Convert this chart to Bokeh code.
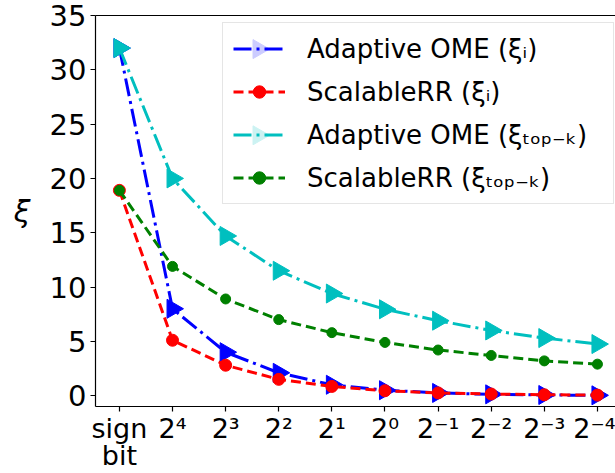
import math
from bokeh.plotting import figure
from bokeh.models import (Legend, LegendItem, LinearAxis, FixedTicker, Range1d)
from bokeh.embed import file_html
from bokeh.resources import INLINE

categories = ["sign\nbit", "2⁴", "2³", "2²", "2¹", "2⁰", "2⁻¹", "2⁻²", "2⁻³", "2⁻⁴"]
ome_xi = [32.0, 8.0, 4.0, 2.1, 1.0, 0.5, 0.25, 0.12, 0.06, 0.03]
rr_xi = [18.9, 5.1, 2.8, 1.5, 0.85, 0.45, 0.25, 0.15, 0.08, 0.05]
ome_topk = [32.0, 20.0, 14.7, 11.5, 9.4, 7.95, 6.9, 6.0, 5.3, 4.75]
rr_topk = [18.9, 11.9, 8.9, 7.0, 5.8, 4.9, 4.2, 3.7, 3.2, 2.9]
y_ticks = [0, 5, 10, 15, 20, 25, 30, 35]
labels = ["Adaptive OME (ξᵢ)", "ScalableRR (ξᵢ)", "Adaptive OME (ξₜₒₚ₋ₖ)", "ScalableRR (ξₜₒₚ₋ₖ)"]

xs = list(range(len(categories)))
FONT = "DejaVu Sans"

# layout (pixels)
W, H = 615, 473
FL, FT, FB = 95, 15, 405
X0, X1 = -0.45, 9.34
Y0, Y1 = -1.0, 35.0


def px_to_data(px, py):
    x = X0 + (px - FL) * (X1 - X0) / (W - FL)
    y = Y1 - (py - FT) * (Y1 - Y0) / (FB - FT)
    return x, y


p = figure(width=W, height=H, output_backend="svg", toolbar_location=None,
           x_range=Range1d(X0, X1), y_range=Range1d(Y0, Y1),
           min_border_left=FL, min_border_right=0, min_border_top=FT,
           min_border_bottom=0)
p.outline_line_color = None
p.background_fill_color = "white"
p.border_fill_color = "white"
p.grid.visible = False

for ax in (p.xaxis[0], p.yaxis[0]):
    ax.axis_line_color = "black"
    ax.axis_line_width = 1.2
    ax.major_tick_line_color = "black"
    ax.major_tick_line_width = 1.2
    ax.major_tick_out = 5
    ax.major_tick_in = 0
    ax.minor_tick_line_color = None
    ax.major_label_text_font = FONT
    ax.major_label_text_color = "black"
    ax.major_label_standoff = 4

p.xaxis.major_label_text_font_size = "27px"
p.xaxis.major_label_standoff = 1
p.yaxis.major_label_text_font_size = "29px"
p.xaxis.ticker = FixedTicker(ticks=xs)
p.xaxis.major_label_overrides = {i: c.split("\n")[0] for i, c in enumerate(categories)}

# second line of multi-line category labels, as a stacked label-only axis
second = {i: c.split("\n")[1] for i, c in enumerate(categories) if "\n" in c}
axis2 = LinearAxis(ticker=FixedTicker(ticks=list(second.keys())),
                   major_label_overrides=second,
                   major_label_text_font=FONT, major_label_text_font_size="27px",
                   major_label_text_color="black", major_label_standoff=-7,
                   axis_line_color=None, major_tick_line_color=None,
                   minor_tick_line_color=None, major_tick_out=0, major_tick_in=0)
p.add_layout(axis2, "below")

p.yaxis.ticker = FixedTicker(ticks=y_ticks)
p.yaxis.axis_label = "ξ"
p.yaxis.axis_label_orientation = "horizontal"
p.yaxis.axis_label_text_font = FONT
p.yaxis.axis_label_text_font_style = "italic"
p.yaxis.axis_label_text_font_size = "30px"
p.yaxis.axis_label_text_color = "black"
p.yaxis.axis_label_standoff = 16

top_axis = LinearAxis(ticker=FixedTicker(ticks=[]), major_label_text_font_size="0px",
                      axis_line_color="black", axis_line_width=1.2,
                      major_tick_line_color=None, minor_tick_line_color=None)
p.add_layout(top_axis, "above")

# legend geometry
LEG_LEFT, LEG_TOP = 222, 23
PAD, GH, SP, GW, STAND = 10, 31, 12, 52, 22
LEG_W = 390
n_items = 4
LEG_H = 2 * PAD + n_items * GH + (n_items - 1) * SP

series = [
    (ome_xi, "#0000ff", "18 5 3 5", "triangle", 19),
    (rr_xi, "#ff0000", "10 5", "circle", 12),
    (ome_topk, "#00bfbf", "18 5 3 5", "triangle", 19),
    (rr_topk, "#008000", "10 5", "circle", 10),
]

items = []
for k, ((ys, color, dash, marker, size), lab) in enumerate(zip(series, labels)):
    ln = p.line(xs, ys, line_color=color, line_width=3, line_dash=dash)
    if marker == "triangle":
        sc = p.scatter(xs, ys, marker="triangle", size=size, angle=-math.pi / 2,
                       fill_color=color, line_color=color)
        gx = LEG_LEFT + PAD + GW / 2
        gy = LEG_TOP + PAD + k * (GH + SP) + GH / 2
        lx, ly = px_to_data(gx, gy)
        p.scatter([lx], [ly], marker="triangle", size=size, angle=-math.pi / 2,
                  fill_color=color, line_color=color, level="overlay")
        items.append(LegendItem(label=lab, renderers=[ln]))
    else:
        sc = p.scatter(xs, ys, marker="circle", size=size, fill_color=color, line_color=color)
        items.append(LegendItem(label=lab, renderers=[ln, sc]))

legend = Legend(items=items, location=(LEG_LEFT - FL, FB - (LEG_TOP + LEG_H)))
legend.label_text_font = FONT
legend.label_text_font_size = "26px"
legend.label_text_color = "black"
legend.glyph_width = GW
legend.glyph_height = GH
legend.label_height = GH
legend.label_width = LEG_W - 2 * PAD - GW - STAND
legend.spacing = SP
legend.padding = PAD
legend.margin = 0
legend.label_standoff = STAND
legend.border_line_color = "#cccccc"
legend.border_line_width = 1
legend.background_fill_alpha = 0.8
p.add_layout(legend, "center")

open("out.html", "w").write(file_html(p, INLINE))
